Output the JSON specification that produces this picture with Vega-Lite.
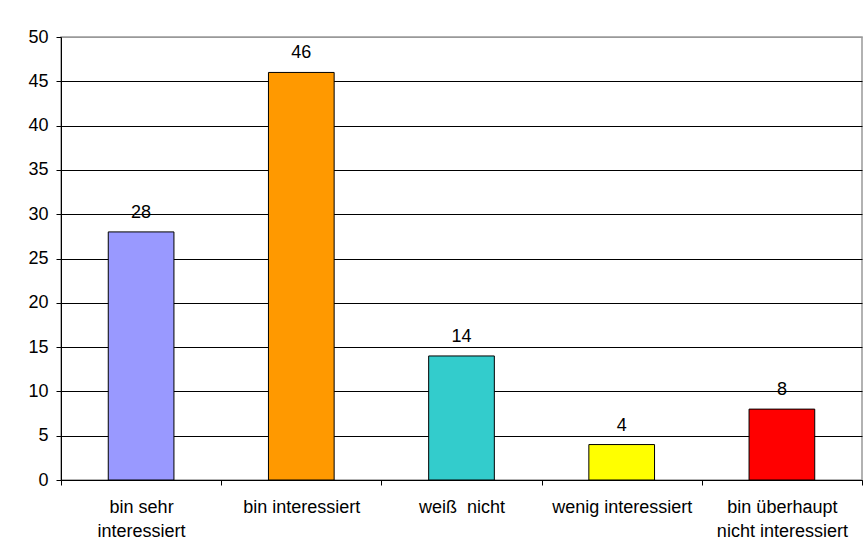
{
  "$schema": "https://vega.github.io/schema/vega-lite/v6.json",
  "autosize": {"type": "none"},
  "padding": {"left": 61, "top": 37, "right": 4, "bottom": 78},
  "width": 801,
  "height": 443,
  "background": "white",
  "config": {
    "font": "Liberation Sans",
    "view": {"stroke": "#999999", "strokeWidth": 1.5},
    "axis": {"labelFont": "Liberation Sans", "labelColor": "black", "labelFontSize": 18, "domainColor": "black", "tickColor": "black", "gridColor": "black", "title": null}
  },
  "data": {"values": [
    {"category": "bin sehr interessiert", "value": 28, "color": "#9999FF"},
    {"category": "bin interessiert", "value": 46, "color": "#FF9900"},
    {"category": "weiß  nicht", "value": 14, "color": "#33CCCC"},
    {"category": "wenig interessiert", "value": 4, "color": "#FFFF00"},
    {"category": "bin überhaupt nicht interessiert", "value": 8, "color": "#FF0000"}
  ]},
  "encoding": {
    "x": {"field": "category", "type": "nominal", "sort": null,
      "scale": {"paddingInner": 0, "paddingOuter": 0},
      "axis": {"labelAngle": 0, "tickBand": "extent", "tickSize": 5, "labelPadding": 13, "labelLineHeight": 24, "grid": false,
        "labelExpr": "datum.value == 'bin sehr interessiert' ? ['bin sehr', 'interessiert'] : datum.value == 'bin überhaupt nicht interessiert' ? ['bin überhaupt', 'nicht interessiert'] : datum.value == 'weiß  nicht' ? 'weiß\u00a0 nicht' : datum.value"}},
    "y": {"field": "value", "type": "quantitative",
      "scale": {"domain": [0, 50], "nice": false},
      "axis": {"values": [0, 5, 10, 15, 20, 25, 30, 35, 40, 45, 50], "tickSize": 5, "labelPadding": 8, "grid": true,
        "gridColor": {"condition": {"test": "datum.value === 50", "value": "#999999"}, "value": "black"}}}
  },
  "layer": [
    {"mark": {"type": "bar", "width": {"band": 0.41}, "stroke": "black", "strokeWidth": 1},
     "encoding": {"color": {"field": "color", "type": "nominal", "scale": null}}},
    {"mark": {"type": "text", "baseline": "bottom", "dy": -10, "fontSize": 18, "color": "black"},
     "encoding": {"text": {"field": "value", "type": "quantitative"}}}
  ]
}
